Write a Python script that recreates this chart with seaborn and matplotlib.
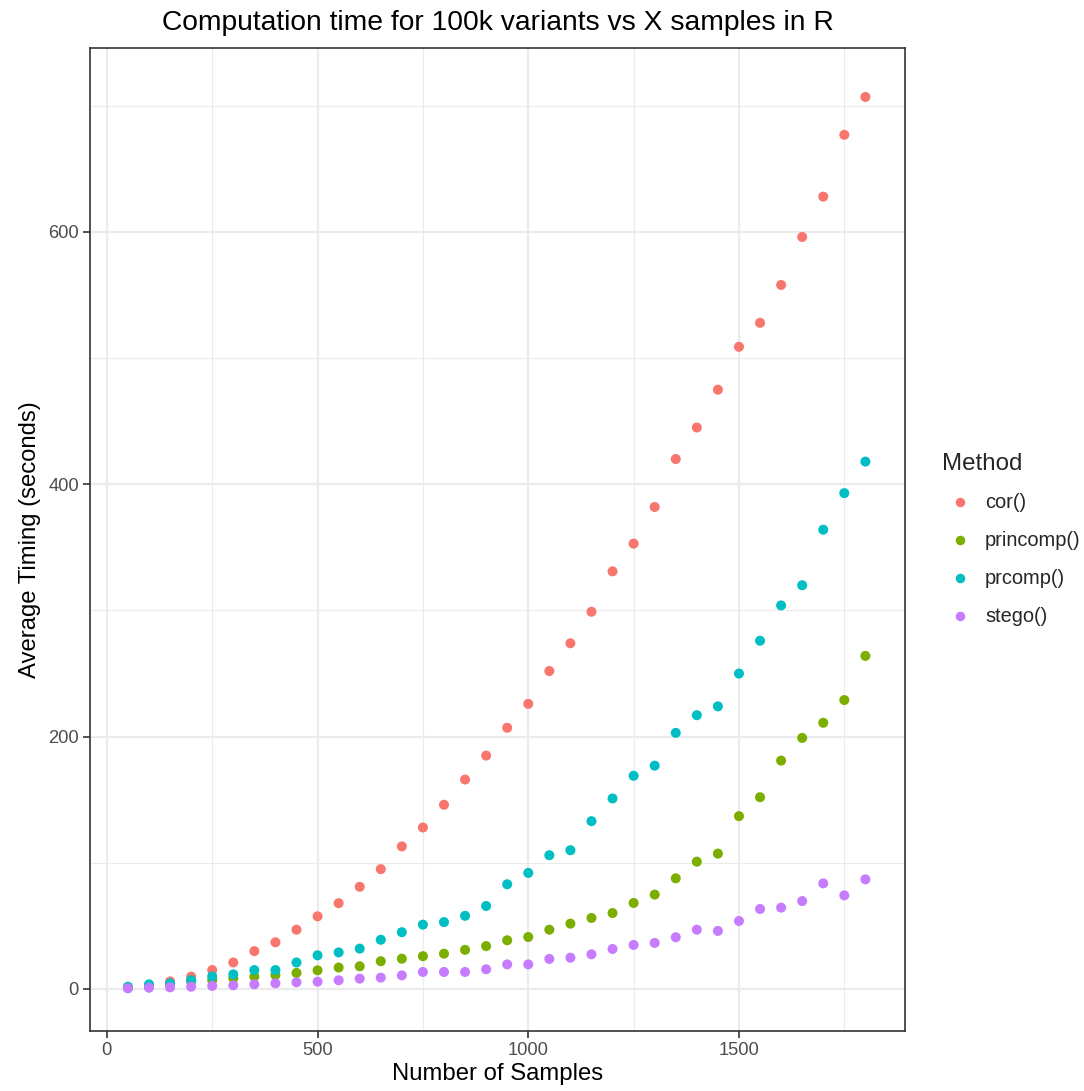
import numpy as np
import pandas as pd
import matplotlib
matplotlib.use("Agg")
import matplotlib.pyplot as plt
import seaborn as sns
from matplotlib.ticker import MultipleLocator

samples = list(range(50, 1801, 50))
cor_t = [1, 3, 6, 9.8, 15, 21, 30, 37, 47, 57.6, 68, 81, 95, 113, 128, 146, 166, 185,
         207, 226, 252, 274, 299, 331, 353, 382, 420, 445, 475, 509, 528, 558, 596, 628, 677, 707]
princomp_t = [1, 2, 3, 6, 7, 8.5, 9.8, 11, 12.7, 14.8, 17, 18, 22, 24, 26, 28, 31, 34,
              38.6, 41.2, 47, 51.8, 56.3, 60.2, 68.2, 74.8, 87.7, 100.9, 107.3, 137, 152, 181, 199, 211, 229, 264]
prcomp_t = [1.8, 3.7, 4.5, 7, 10, 11.6, 15, 15, 21, 26.7, 29, 32, 39, 45, 51, 53, 58, 65.8,
            83, 92, 106, 110, 133, 151, 169, 177, 203, 217, 224, 250, 276, 304, 320, 364, 393, 418]
stego_t = [0.5, 1, 1.3, 1.8, 2.4, 2.9, 3.7, 4.5, 5.3, 5.8, 6.9, 8.2, 9, 10.8, 13.5, 13.5, 13.5, 15.6,
           19.5, 19.5, 23.8, 24.8, 27.5, 31.7, 34.9, 36.5, 41, 47, 46, 53.9, 63.4, 64.5, 69.7, 83.7, 74.2, 86.9]
methods = ["cor()", "princomp()", "prcomp()", "stego()"]
colors = ["#F8766D", "#7CAE00", "#00BFC4", "#C77CFF"]

df = pd.concat([
    pd.DataFrame({"Samples": samples, "Timing": vals, "Method": m})
    for m, vals in zip(methods, [cor_t, princomp_t, prcomp_t, stego_t])
], ignore_index=True)

sns.set_style("white")
plt.rcParams["font.family"] = ["Liberation Sans", "DejaVu Sans"]

fig = plt.figure(figsize=(10.84, 10.91), dpi=100)
ax = fig.add_axes([90/1084, 1 - 1031/1091, (905-90)/1084, (1031-48)/1091])

sns.scatterplot(data=df, x="Samples", y="Timing", hue="Method", hue_order=methods,
                palette=colors, s=52, linewidth=0, ax=ax, zorder=3)

ax.set_xlim(-40, 1894)
ax.set_ylim(-33.3, 745.8)
ax.xaxis.set_major_locator(MultipleLocator(500))
ax.xaxis.set_minor_locator(MultipleLocator(250))
ax.yaxis.set_major_locator(MultipleLocator(200))
ax.yaxis.set_minor_locator(MultipleLocator(100))
ax.grid(which="major", color="#EBEBEB", linewidth=1.6, zorder=0)
ax.grid(which="minor", color="#EBEBEB", linewidth=0.8, zorder=0)
ax.set_axisbelow(True)
for sp in ax.spines.values():
    sp.set_color("#333333")
    sp.set_linewidth(1.2)
ax.tick_params(which="major", direction="out", length=5, width=1.2, color="#333333",
               labelsize=13.2, labelcolor="#4D4D4D", bottom=True, left=True, pad=3)
ax.tick_params(which="minor", length=0)

ax.set_xlabel("Number of Samples", fontsize=17.2, color="black", labelpad=3)
ax.set_ylabel("Average Timing (seconds)", fontsize=17.2, color="black", labelpad=5)
fig.text((90+905)/2/1084, 1 - 23/1091, "Computation time for 100k variants vs X samples in R",
         ha="center", va="center", fontsize=20.3, color="black")

leg = ax.legend(title="Method", loc="center left", bbox_to_anchor=(852/815, 0.5),
                borderaxespad=0, borderpad=0,
                frameon=False, fontsize=14.4, title_fontsize=17.4, labelspacing=0.95,
                handlelength=1.8, handletextpad=0.35, markerscale=0.95)
leg._legend_box.align = "left"

fig.savefig("out.png", dpi=100, facecolor="white")
